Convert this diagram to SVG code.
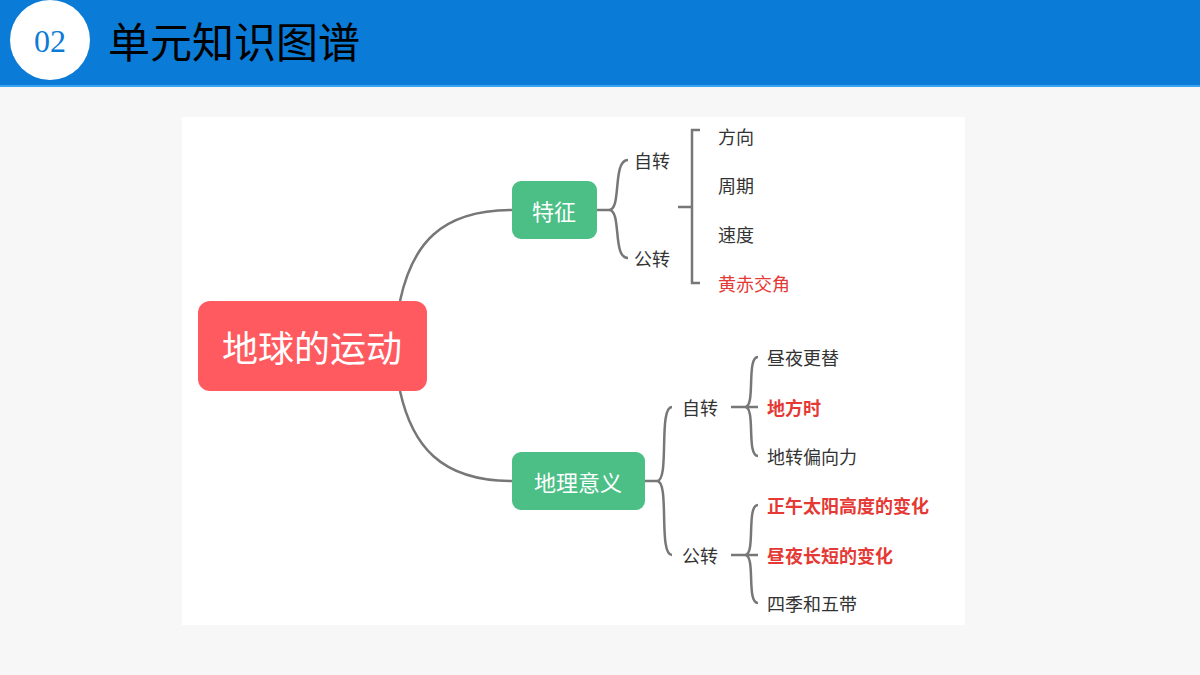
<svg xmlns="http://www.w3.org/2000/svg" width="1200" height="675" viewBox="0 0 1200 675">
<style>
.t{font-family:"Noto Sans CJK SC","Noto Sans",sans-serif}
.leaf{font-size:18px;fill:#333}
.red{fill:#e53935;font-weight:bold}
.c{fill:none;stroke:#777;stroke-width:2.5}
.g{fill:#4cbf87}
.w{fill:#fff;text-anchor:middle;dominant-baseline:central}
</style>
<rect width="1200" height="675" fill="#f7f7f7"/>
<rect x="0" y="0" width="1200" height="87" fill="#0a7bd6"/>
<rect x="0" y="85" width="1200" height="2" fill="#3ba4ee"/>
<circle cx="50" cy="40" r="40" fill="#fff"/>
<text x="50" y="52" font-family="Liberation Serif,serif" font-size="32" fill="#0a7bd6" text-anchor="middle">02</text>
<text x="108" y="58" class="t" font-size="42" fill="#000">单元知识图谱</text>
<rect x="182" y="117" width="783" height="508" fill="#fff"/>
<g id="connectors">
<path class="c" d="M400,301 C412,245 440,210 512,210"/>
<path class="c" d="M400,391 C412,445 440,481 512,481"/>
<path class="c" d="M597,210 H609 C622,210 612,160 628,160 M609,210 C622,210 612,258 628,258"/>
<path class="c" d="M678,207 H692 M700,130 H692 V283 H700"/>
<path class="c" d="M645,481 H657 C670,481 658,407 672,407 M657,481 C670,481 658,555 672,555"/>
<path class="c" d="M731,407 H745 C756,407 746,357 758,357 M745,407 C756,407 746,456 758,456 M745,407 H758"/>
<path class="c" d="M731,555 H745 C756,555 746,505 758,505 M745,555 C756,555 746,603 758,603 M745,555 H758"/>
</g>
<g id="root"><rect x="198" y="301" width="229" height="90" rx="12" fill="#ff5a5f"/><text x="312" y="346" class="t w" font-size="36">地球的运动</text></g>
<g id="tezheng"><rect x="512" y="181" width="85" height="58" rx="9" class="g"/><text x="554" y="210" class="t w" font-size="22">特征</text></g>
<g id="dili"><rect x="512" y="452" width="133" height="58" rx="9" class="g"/><text x="578" y="481" class="t w" font-size="22">地理意义</text></g>
<g id="leaves" class="t leaf" dominant-baseline="central">
<text x="634" y="160">自转</text><text x="634" y="258">公转</text>
<text x="718" y="136">方向</text><text x="718" y="185">周期</text><text x="718" y="234">速度</text>
<text x="718" y="283" fill="#e53935">黄赤交角</text>
<text x="682" y="407">自转</text><text x="682" y="555">公转</text>
<text x="767" y="357">昼夜更替</text><text x="767" y="407" class="red">地方时</text><text x="767" y="456">地转偏向力</text>
<text x="767" y="505" class="red">正午太阳高度的变化</text><text x="767" y="555" class="red">昼夜长短的变化</text><text x="767" y="603">四季和五带</text>
</g>
</svg>
